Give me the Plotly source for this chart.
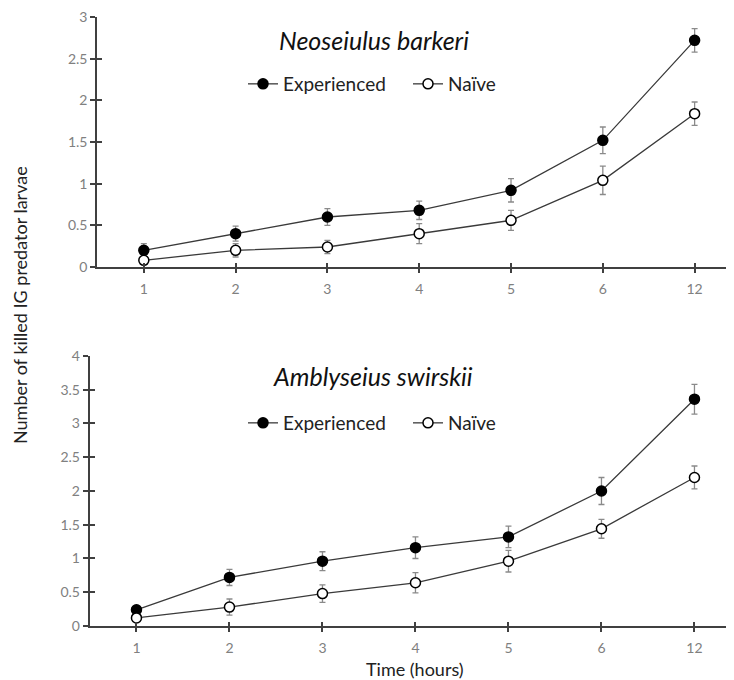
import plotly.graph_objects as go

categories = ["1", "2", "3", "4", "5", "6", "12"]

nb_exp = [0.20, 0.40, 0.60, 0.68, 0.92, 1.52, 2.72]
nb_exp_err = [0.08, 0.09, 0.10, 0.11, 0.14, 0.16, 0.14]
nb_nai = [0.08, 0.20, 0.24, 0.40, 0.56, 1.04, 1.84]
nb_nai_err = [0.04, 0.08, 0.08, 0.12, 0.12, 0.17, 0.14]

as_exp = [0.24, 0.72, 0.96, 1.16, 1.32, 2.00, 3.36]
as_exp_err = [0.05, 0.12, 0.14, 0.16, 0.16, 0.20, 0.22]
as_nai = [0.12, 0.28, 0.48, 0.64, 0.96, 1.44, 2.20]
as_nai_err = [0.04, 0.12, 0.13, 0.15, 0.16, 0.14, 0.17]

top_ticks = [0, 0.5, 1, 1.5, 2, 2.5, 3]
top_ticktext = ["0", "0.5", "1", "1.5", "2", "2.5", "3"]
bot_ticks = [0, 0.5, 1, 1.5, 2, 2.5, 3, 3.5, 4]
bot_ticktext = ["0", "0.5", "1", "1.5", "2", "2.5", "3", "3.5", "4"]

FONT = "Lato"
LINE = "#3a3a3a"
ERR = "#8a8a8a"
TICKC = "#808080"
AXC = "#404040"

xi = list(range(len(categories)))

fig = go.Figure()


def add_series(y, err, xa, ya, filled, name, legend):
    fig.add_trace(go.Scatter(
        x=xi, y=y, xaxis=xa, yaxis=ya, name=name, legend=legend,
        mode="lines+markers", cliponaxis=False,
        line=dict(color=LINE, width=1.3),
        marker=dict(size=10, symbol="circle",
                    color="black" if filled else "white",
                    line=dict(color="black", width=1.5)),
        error_y=dict(type="data", array=err, visible=True,
                     color=ERR, thickness=1.3, width=3),
    ))


add_series(nb_exp, nb_exp_err, "x", "y", True, "Experienced", "legend")
add_series(nb_nai, nb_nai_err, "x", "y", False, "Naïve", "legend")
add_series(as_exp, as_exp_err, "x2", "y2", True, "Experienced", "legend2")
add_series(as_nai, as_nai_err, "x2", "y2", False, "Naïve", "legend2")

# dummy traces for overlay axes (inside half of crossing ticks)
for xa, ya in [("x3", "y"), ("x", "y3"), ("x4", "y2"), ("x2", "y4")]:
    fig.add_trace(go.Scatter(x=[None], y=[None], xaxis=xa, yaxis=ya,
                             showlegend=False, hoverinfo="skip"))

W, H = 734, 680
OFF = 8  # page body margin


def px(x):
    return (x - OFF) / W


def py(y):
    return 1 - (y - OFF) / H


RIGHT = W + OFF
top_yr = [0, 3.004]
bot_yr = [0, 4.004]
top_dom_y = [py(267), py(16.7)]
bot_dom_y = [py(626), py(355.7)]
top_dom_x = [px(97), 1.0]
bot_dom_x = [px(89.5), 1.0]
top_xr = [-0.51, -0.51 + (RIGHT - 97) / 91.8]
bot_xr = [-0.505, -0.505 + (RIGHT - 89.5) / 93.0]

xcommon = dict(tickmode="array", tickvals=xi, ticktext=categories,
               showgrid=False, zeroline=False, showline=True,
               linecolor=AXC, linewidth=1.5, ticks="outside", ticklen=4,
               tickwidth=1.5, tickcolor=AXC, automargin=False,
               ticklabelstandoff=4, ticklabeloverflow="allow",
               tickfont=dict(family=FONT, size=14, color=TICKC))
ycommon = dict(showgrid=False, zeroline=False, showline=True,
               linecolor=AXC, linewidth=1.5, ticks="outside", ticklen=5,
               tickwidth=1.5, tickcolor=AXC, automargin=False,
               ticklabelstandoff=0, ticklabeloverflow="allow",
               tickfont=dict(family=FONT, size=14, color=TICKC))
ovl = dict(showticklabels=False, ticks="inside", tickwidth=1.5,
           tickcolor=AXC, showline=False, showgrid=False, zeroline=False,
           automargin=False)

leg_common = dict(orientation="h", xanchor="left", yanchor="middle",
                  bgcolor="rgba(0,0,0,0)", itemwidth=30,
                  entrywidth=120, entrywidthmode="pixels",
                  font=dict(family=FONT, size=19, color="#222222"))

fig.update_layout(
    width=W, height=H,
    margin=dict(l=0, r=0, t=0, b=0),
    paper_bgcolor="white", plot_bgcolor="white",
    font=dict(family=FONT, color="#222222"),
    xaxis=dict(domain=top_dom_x, range=top_xr, anchor="y", **xcommon),
    yaxis=dict(domain=top_dom_y, range=top_yr, anchor="x",
               tickvals=top_ticks, ticktext=top_ticktext, **ycommon),
    xaxis2=dict(domain=bot_dom_x, range=bot_xr, anchor="y2", **xcommon),
    yaxis2=dict(domain=bot_dom_y, range=bot_yr, anchor="x2",
                tickvals=bot_ticks, ticktext=bot_ticktext, **ycommon),
    xaxis3=dict(overlaying="x", anchor="y", range=top_xr, side="bottom",
                tickvals=xi, ticklen=4, **ovl),
    yaxis3=dict(overlaying="y", anchor="x", range=top_yr, side="left",
                tickvals=top_ticks, ticklen=5, **ovl),
    xaxis4=dict(overlaying="x2", anchor="y2", range=bot_xr, side="bottom",
                tickvals=xi, ticklen=4, **ovl),
    yaxis4=dict(overlaying="y2", anchor="x2", range=bot_yr, side="left",
                tickvals=bot_ticks, ticklen=5, **ovl),
    legend=dict(x=px(243), y=py(84), **leg_common),
    legend2=dict(x=px(243), y=py(423), **leg_common),
    showlegend=True,
)

ann = dict(xref="paper", yref="paper", showarrow=False,
           xanchor="center", yanchor="middle")
fig.add_annotation(text="<i>Neoseiulus barkeri</i>", x=px(374), y=py(40),
                   font=dict(family=FONT, size=25, color="#111111"), **ann)
fig.add_annotation(text="<i>Amblyseius swirskii</i>", x=px(373), y=py(376),
                   font=dict(family=FONT, size=25, color="#111111"), **ann)
fig.add_annotation(text="Number of killed IG predator larvae", textangle=-90,
                   x=px(20), y=py(305),
                   font=dict(family=FONT, size=18, color="#222222"), **ann)
fig.add_annotation(text="Time (hours)", x=px(415), y=py(669),
                   font=dict(family=FONT, size=18, color="#222222"), **ann)

fig.write_html("out.html")
